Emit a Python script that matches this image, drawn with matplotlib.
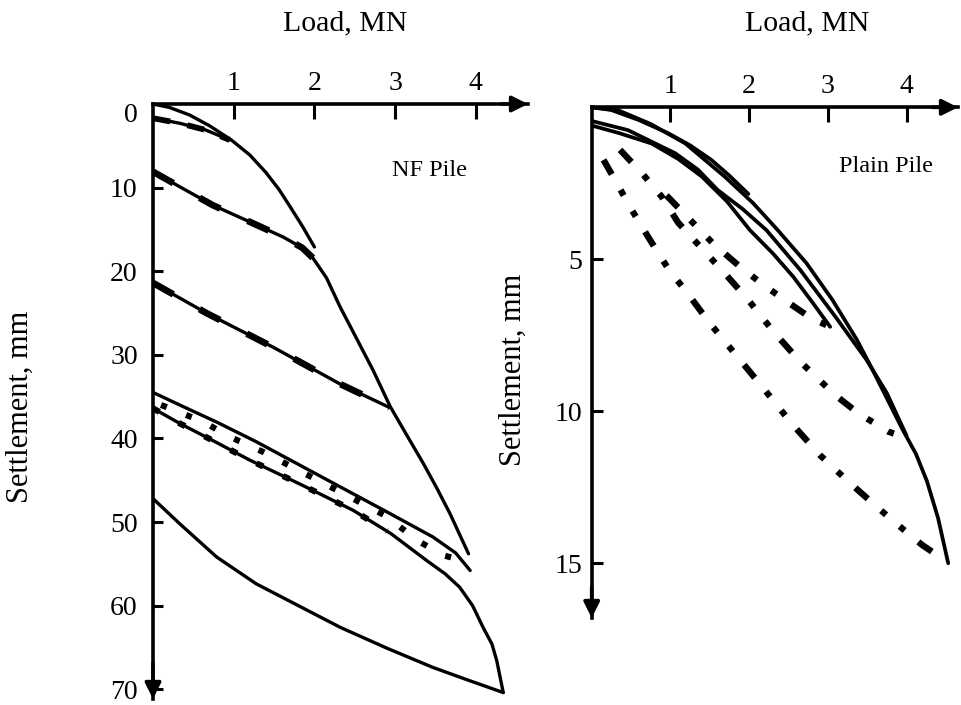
import matplotlib
matplotlib.use("Agg")
import matplotlib.pyplot as plt

plt.rcParams['font.family'] = ['Liberation Serif', 'DejaVu Serif']

# ---------------- data (NF pile, left panel) ----------------
nf_load_a = [0, 0.2, 0.45, 0.7, 0.97, 1.2, 1.40, 1.56, 1.70, 1.85, 2.0]
nf_set_a = [0, 0.4, 1.3, 2.6, 4.3, 6.1, 8.2, 10.2, 12.3, 14.6, 17.1]

nf_load_b = [0, 0.33, 0.65, 0.95]
nf_set_b = [1.7, 2.3, 3.1, 4.3]

nf_load_c = [0, 0.35, 0.74, 1.2, 1.61, 1.85, 1.98, 2.15, 2.32, 2.52, 2.73, 2.94, 3.15, 3.35, 3.52, 3.68, 3.91]
nf_set_c = [8.1, 10.0, 12.1, 14.1, 15.9, 17.2, 18.4, 20.8, 24.3, 28.0, 31.9, 36.2, 39.7, 43.0, 46.0, 49.0, 53.8]
nf_load_c_dash = [0, 0.35, 0.74, 1.2, 1.61, 1.85, 1.98]
nf_set_c_dash = [8.1, 10.0, 12.1, 14.1, 15.9, 17.2, 18.4]

nf_load_d = [0, 0.66, 1.49, 2.32, 2.93]
nf_set_d = [21.4, 25.0, 29.1, 33.5, 36.3]

nf_load_e = [0, 0.33, 0.8, 1.28, 1.8, 2.32, 2.9, 3.47, 3.75, 3.93]
nf_set_e = [34.5, 36.0, 38.1, 40.4, 43.1, 45.8, 48.8, 51.8, 53.7, 55.8]

nf_load_f = [0, 0.33, 0.75, 1.2, 1.85, 2.48, 2.95, 3.39, 3.62, 3.8, 3.96, 4.09, 4.2, 4.26, 4.34]
nf_set_f = [36.4, 38.2, 40.3, 42.6, 45.6, 48.6, 51.4, 54.6, 56.2, 57.8, 60.0, 62.6, 64.6, 66.6, 70.4]
nf_load_f_dash = [0, 0.33, 0.75, 1.2, 1.85, 2.48, 2.9]
nf_set_f_dash = [36.4, 38.2, 40.3, 42.6, 45.6, 48.6, 51.1]

nf_load_g = [0.1, 0.62, 0.95, 1.36, 1.8, 2.28, 2.87, 3.31, 3.6, 3.76]
nf_set_g = [36.0, 38.0, 39.8, 41.6, 43.8, 46.2, 49.2, 52.4, 54.0, 54.4]

nf_load_h = [4.34, 3.9, 3.47, 2.9, 2.32, 1.8, 1.28, 0.79, 0.33, 0]
nf_set_h = [70.4, 68.9, 67.4, 65.1, 62.6, 60.0, 57.4, 54.2, 50.2, 47.2]

# ---------------- data (plain pile, right panel) ----------------
pp_load_1 = [0, 0.25, 0.6, 0.97, 1.25, 1.52, 1.75, 1.99]
pp_set_1 = [0, 0.09, 0.42, 0.85, 1.25, 1.73, 2.25, 2.85]

pp_load_2 = [0, 0.35, 0.76, 1.10, 1.40, 1.72, 2.01, 2.30, 2.56, 2.80, 3.03]
pp_set_2 = [0.6, 0.85, 1.19, 1.70, 2.28, 3.10, 4.04, 4.80, 5.57, 6.40, 7.22]

pp_load_3 = [0, 0.46, 1.06, 1.35, 1.60, 1.92, 2.22, 2.65, 3.10, 3.49, 3.75, 4.0]
pp_set_3 = [0.45, 0.75, 1.51, 2.05, 2.72, 3.35, 4.04, 5.35, 6.90, 8.30, 9.40, 10.8]

pp_load_4 = [0, 0.33, 0.75, 1.19, 1.69, 2.05, 2.35, 2.73, 3.06, 3.37, 3.57, 3.95, 4.12, 4.26, 4.40, 4.53]
pp_set_4 = [0, 0.09, 0.55, 1.19, 2.28, 3.15, 4.00, 5.13, 6.34, 7.65, 8.64, 10.6, 11.4, 12.3, 13.5, 15.0]

pp_load_u2 = [0.95, 1.25, 1.55, 1.86, 2.16, 2.48, 2.79, 3.03]
pp_set_u2 = [2.9, 3.7, 4.5, 5.19, 5.8, 6.39, 6.94, 7.22]

pp_load_u3 = [0.36, 0.64, 0.89, 1.10, 1.42, 1.69, 1.99, 2.31, 2.65, 3.09, 3.39, 3.77, 3.97]
pp_set_u3 = [1.40, 2.17, 2.94, 3.8, 4.7, 5.46, 6.34, 7.38, 8.37, 9.46, 10.07, 10.67, 10.85]

pp_load_u4 = [0.15, 0.32, 0.51, 0.74, 0.97, 1.25, 1.50, 1.78, 2.20, 2.54, 2.90, 3.24, 3.43, 3.79, 4.20, 4.40]
pp_set_u4 = [1.73, 2.50, 3.38, 4.36, 5.3, 6.23, 7.1, 7.98, 9.3, 10.4, 11.44, 12.26, 12.7, 13.52, 14.4, 14.75]

x_ticks = [1, 2, 3, 4]
nf_y_ticks = [0, 10, 20, 30, 40, 50, 60, 70]
pp_y_ticks = [5, 10, 15]

# ---------------- layout ----------------
W, H = 961, 705
fig = plt.figure(figsize=(W / 100, H / 100), dpi=100)


def rect(x0, y0, x1, y1):
    return [x0 / W, 1 - y1 / H, (x1 - x0) / W, (y1 - y0) / H]


def style(ax, ypad, ylen):
    for s in ['right', 'bottom']:
        ax.spines[s].set_visible(False)
    for s in ['left', 'top']:
        ax.spines[s].set_linewidth(2.6)
    ax.xaxis.set_ticks_position('top')
    ax.tick_params(axis='x', direction='in', length=11, width=2.2, pad=6, labelsize=20)
    ax.tick_params(axis='y', direction='in', length=ylen, width=2.2, pad=ypad, labelsize=20)
    ax.patch.set_alpha(0)
    arrow = dict(arrowstyle='-|>', color='k', lw=2.6, mutation_scale=24,
                 shrinkA=0, shrinkB=0)
    ax.annotate('', xy=(1, 1), xytext=(0.93, 1), xycoords='axes fraction',
                arrowprops=arrow, annotation_clip=False)
    ax.annotate('', xy=(0, 0), xytext=(0, 0.06), xycoords='axes fraction',
                arrowprops=arrow, annotation_clip=False)


# Left panel
axL = fig.add_axes(rect(153, 104, 528, 699))
axL.set_xlim(0, (528 - 153) / 80.7)
axL.set_ylim((699 - 104) / 8.36, 0)
style(axL, 11, 7)
axL.set_xticks(x_ticks)
axL.set_yticks(nf_y_ticks)
axL.set_yticklabels([''] + [str(v) for v in nf_y_ticks[1:]])
axL.annotate(str(nf_y_ticks[0]), xy=(0, nf_y_ticks[0]), xycoords=('axes fraction', 'data'),
             xytext=(-15, -11), textcoords='offset pixels', ha='right', va='center',
             fontsize=20)

solid = dict(color='k', lw=2.4, solid_capstyle='round', solid_joinstyle='round')
dash_thick = dict(color='k', lw=4.8, dashes=(3.5, 4.5), dash_capstyle='butt')

axL.plot(nf_load_a, nf_set_a, **solid)
axL.plot(nf_load_b, nf_set_b, **solid)
axL.plot(nf_load_b, nf_set_b, color='k', lw=4.2, dashes=(3, 3), dash_capstyle='butt')
axL.plot(nf_load_c, nf_set_c, **solid)
axL.plot(nf_load_c_dash, nf_set_c_dash, **dash_thick)
axL.plot(nf_load_d, nf_set_d, **solid)
axL.plot(nf_load_d, nf_set_d, **dash_thick)
axL.plot(nf_load_e, nf_set_e, **solid)
axL.plot(nf_load_f, nf_set_f, **solid)
axL.plot(nf_load_f_dash, nf_set_f_dash, color='k', lw=4.4, dashes=(1.2, 3.6), dash_capstyle='butt')
axL.plot(nf_load_g, nf_set_g, color='k', lw=4.4, dashes=(1, 3.4), dash_capstyle='butt')
axL.plot(nf_load_h, nf_set_h, **solid)
axL.text(430 / W, 1 - 171 / H, 'NF Pile', transform=fig.transFigure, fontsize=17.5,
         ha='center', va='center')

# Right panel
axR = fig.add_axes(rect(591.7, 107.3, 958, 618))
axR.set_xlim(0, (958 - 591.7) / 78.7)
axR.set_ylim((618 - 107.3) / 30.4, 0)
style(axR, 7, 8)
axR.set_xticks(x_ticks)
axR.set_yticks(pp_y_ticks)

solid_r = dict(color='k', lw=2.7, solid_capstyle='round', solid_joinstyle='round')
dashdot = dict(color='k', lw=4.6, dashes=(2.6, 2.8, 1, 2.8, 1, 2.8), dash_capstyle='butt')
axR.plot(pp_load_1, pp_set_1, **solid_r)
axR.plot(pp_load_2, pp_set_2, **solid_r)
axR.plot(pp_load_3, pp_set_3, **solid_r)
axR.plot(pp_load_4, pp_set_4, **solid_r)
axR.plot(pp_load_u2, pp_set_u2, **dashdot)
axR.plot(pp_load_u3, pp_set_u3, **dashdot)
axR.plot(pp_load_u4, pp_set_u4, **dashdot)
axR.text(886 / W, 1 - 167 / H, 'Plain Pile', transform=fig.transFigure, fontsize=17.5,
         ha='center', va='center')

# Axis titles
fig.text(345 / W, 1 - 23 / H, 'Load, MN', fontsize=21.5, ha='center', va='center')
fig.text(807 / W, 1 - 23 / H, 'Load, MN', fontsize=21.5, ha='center', va='center')
fig.text(20 / W, 1 - 407 / H, 'Settlement, mm', fontsize=22, rotation=90,
         ha='center', va='center')
fig.text(513 / W, 1 - 370 / H, 'Settlement, mm', fontsize=22, rotation=90,
         ha='center', va='center')

fig.savefig('out.png', dpi=100)
